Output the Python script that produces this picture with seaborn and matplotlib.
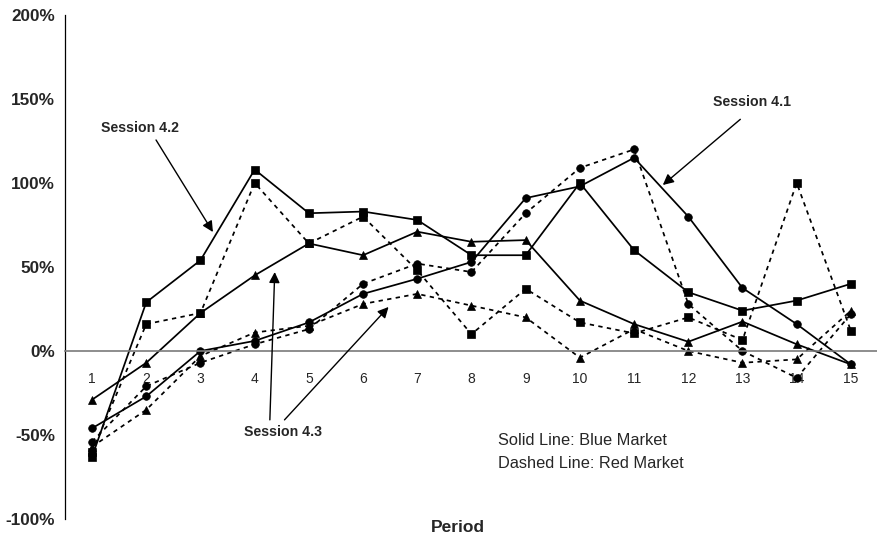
import matplotlib
matplotlib.use('Agg')
import matplotlib.pyplot as plt
import seaborn as sns

# Data (percent change per period)
periods = list(range(1, 16))

# Session 4.1 (circles)
s41_blue = [-46, -27, 0, 6, 17, 34, 43, 53, 91, 98, 115, 80, 37.5, 16, -8]
s41_red = [-54, -21, -7, 4, 13, 40, 52, 47, 82, 109, 120, 28, 0, -16, 22]

# Session 4.2 (squares)
s42_blue = [-63, 29, 54, 108, 82, 83, 78, 57, 57, 100, 60, 35, 24, 30, 40]
s42_red = [-60, 16, 22.6, 100, 64, 80, 48, 10, 37, 17, 10.5, 20, 6.5, 100, 12]

# Session 4.3 (triangles)
s43_blue = [-29, -7, 22.6, 45, 64, 57, 71, 65, 66, 30, 16, 5.5, 17.5, 4, -8]
s43_red = [-57, -35, -3, 11, 15, 28, 34, 27, 20, -4, 13, 0, -7, -5, 24]

y_ticks = [-100, -50, 0, 50, 100, 150, 200]
y_tick_labels = ['-100%', '-50%', '0%', '50%', '100%', '150%', '200%']

sns.set_style('white')
plt.rcParams['font.family'] = ['Liberation Sans', 'DejaVu Sans']

fig = plt.figure(figsize=(8.78, 5.41), dpi=100)
ax = fig.add_axes([0.074, 0.0407, 0.926, 0.9316])

dashed = (0, (2.5, 2.5))
series = [
    (s41_blue, 'o', '-', 5.5), (s41_red, 'o', dashed, 5.5),
    (s42_blue, 's', '-', 5.8), (s42_red, 's', dashed, 5.8),
    (s43_blue, '^', '-', 6), (s43_red, '^', dashed, 6),
]
for vals, mk, ls, ms in series:
    sns.lineplot(x=periods, y=vals, ax=ax, color='black', linestyle=ls,
                 linewidth=1.25, marker=mk, markersize=ms,
                 markeredgecolor='black', markerfacecolor='black',
                 markeredgewidth=0.5)

ax.set_xlim(0.5, 15.5)
ax.set_ylim(-100, 200)
ax.set_xticks(periods)
ax.set_xticklabels([str(p) for p in periods], fontsize=12.5, fontweight='bold')
ax.set_yticks(y_ticks)
ax.set_yticklabels(y_tick_labels, fontsize=12.3, fontweight='bold')
ax.tick_params(axis='x', length=0, pad=15)
ax.tick_params(axis='y', length=0, pad=7)

ax.spines['top'].set_visible(False)
ax.spines['right'].set_visible(False)
ax.spines['bottom'].set_position(('data', 0))
ax.spines['bottom'].set_color('#7a7a7a')
ax.spines['bottom'].set_linewidth(1.2)
ax.spines['left'].set_color('black')
ax.spines['left'].set_linewidth(0.9)

ax.set_xlabel('Period', fontsize=12.5, fontweight='bold')
ax.xaxis.set_label_coords(0.483, -0.003)
ax.set_ylabel('')

# session annotations
arrow = dict(arrowstyle='-|>', color='black', lw=1.0, mutation_scale=16,
             shrinkA=0, shrinkB=0)
ax.text(1.88, 132.7, 'Session 4.2', fontsize=10.2, fontweight='bold',
        ha='center', va='center')
ax.annotate('', xy=(3.23, 70.8), xytext=(2.18, 125.6), arrowprops=arrow)

ax.text(13.17, 148.2, 'Session 4.1', fontsize=10.2, fontweight='bold',
        ha='center', va='center')
ax.annotate('', xy=(11.53, 98.8), xytext=(12.96, 137.9), arrowprops=arrow)

ax.text(4.52, -48.2, 'Session 4.3', fontsize=10.2, fontweight='bold',
        ha='center', va='center')
ax.annotate('', xy=(4.37, 47), xytext=(4.28, -41), arrowprops=arrow)
ax.annotate('', xy=(6.47, 26.2), xytext=(4.55, -41), arrowprops=arrow)

ax.text(8.48, -53, 'Solid Line: Blue Market', fontsize=11.8, ha='left', va='center')
ax.text(8.48, -66.7, 'Dashed Line: Red Market', fontsize=11.8, ha='left', va='center')

fig.savefig('out.png', dpi=100)
